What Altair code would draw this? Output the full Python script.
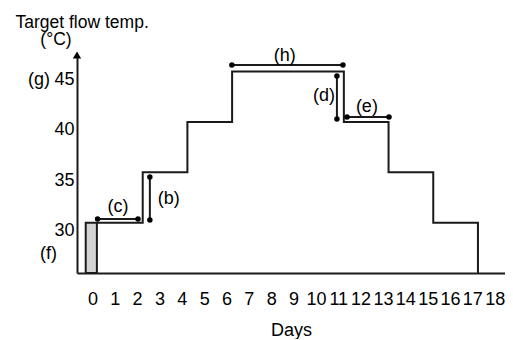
import altair as alt
import pandas as pd

# ---- data ----
step_days = [0.2, 2.25, 4.25, 6.25, 11.25, 13.25, 15.25, 17.25]
step_temps = [30, 35, 40, 45, 40, 35, 30, 25]

bar_start = [-0.30]
bar_end = [0.2]
bar_base = [25]
bar_top = [30]

ann_x1 = [0.23, 2.57, 10.94, 11.39, 6.24]
ann_x2 = [2.04, 2.57, 10.94, 13.27, 11.21]
ann_y1 = [30.36, 34.53, 44.56, 40.49, 45.65]
ann_y2 = [30.36, 30.26, 40.29, 40.49, 45.65]

label_text = ["(c)", "(b)", "(h)", "(d)", "(e)", "(g)", "(f)"]
label_x = [1.14, 3.42, 8.61, 10.36, 12.28, -2.39, -1.97]
label_y = [31.55, 32.35, 46.55, 42.58, 41.48, 44.17, 26.9]

x_ticks = list(range(19))
y_ticks = [30, 35, 40, 45]

X_DOM = [-0.69, 18.46]
Y_DOM = [25, 46.65]

FONT = "Liberation Sans"
INK = "#1a1a1a"

steps = pd.DataFrame({"x": step_days, "y": step_temps})
bar = pd.DataFrame({"x": bar_start, "x2": bar_end, "y": bar_base, "y2": bar_top})
ann = pd.DataFrame({"x": ann_x1, "x2": ann_x2, "y": ann_y1, "y2": ann_y2})
pts = pd.DataFrame({"x": ann_x1 + ann_x2, "y": ann_y1 + ann_y2})
labels = pd.DataFrame({"x": label_x, "y": label_y, "t": label_text})
arrow = pd.DataFrame({"x": [X_DOM[0]], "y": [Y_DOM[1]]})

X = alt.X("x:Q", scale=alt.Scale(domain=X_DOM, nice=False, zero=False),
          axis=alt.Axis(values=x_ticks, title="Days", labelPadding=17,
                        titlePadding=13, labelFlush=False, labelAngle=0))
Y = alt.Y("y:Q", scale=alt.Scale(domain=Y_DOM, nice=False, zero=False),
          axis=alt.Axis(values=y_ticks, title=None, labelPadding=3, labelOffset=8))

bar_layer = alt.Chart(bar).mark_rect(fill="#d4d4d4", stroke=INK, strokeWidth=2).encode(
    x=X, x2="x2:Q", y=Y, y2="y2:Q")

step_layer = alt.Chart(steps).mark_line(interpolate="step-after", color=INK, strokeWidth=2).encode(
    x=X, y=Y)

ann_layer = alt.Chart(ann).mark_rule(color=INK, strokeWidth=2).encode(
    x=X, x2="x2:Q", y=Y, y2="y2:Q")

pt_layer = alt.Chart(pts).mark_point(filled=True, size=30, color="#000", opacity=1).encode(x=X, y=Y)

lab_layer = alt.Chart(labels).mark_text(font=FONT, fontSize=18, color="#000").encode(
    x=X, y=Y, text="t:N")

arrow_layer = alt.Chart(arrow).mark_point(shape="triangle-up", filled=True, size=70,
                                          color="#000", opacity=1).encode(x=X, y=Y)

title1 = alt.Chart(pd.DataFrame({"t": ["Target flow temp."]})).mark_text(
    font=FONT, fontSize=17.5, align="left", baseline="alphabetic", color="#000").encode(
    x=alt.value(-61.5), y=alt.value(-27.5), text="t:N")
title2 = alt.Chart(pd.DataFrame({"t": ["(°C)"]})).mark_text(
    font=FONT, fontSize=17.5, align="center", baseline="alphabetic", color="#000").encode(
    x=alt.value(-21), y=alt.value(-10), text="t:N")

chart = alt.layer(bar_layer, step_layer, ann_layer, pt_layer, lab_layer, arrow_layer,
                  title1, title2).properties(
    width=428, height=218,
    autosize=alt.AutoSizeParams(type="none"),
    padding={"left": 69, "top": 47, "right": 0, "bottom": 66},
).configure_view(stroke=None).configure_axis(
    grid=False, ticks=False, domainColor=INK, domainWidth=2,
    labelFont=FONT, labelFontSize=18, labelColor="#000",
    titleFont=FONT, titleFontSize=18, titleFontWeight="normal", titleColor="#000",
)

chart.save("out.html", embed_options={"renderer": "svg", "actions": False})
